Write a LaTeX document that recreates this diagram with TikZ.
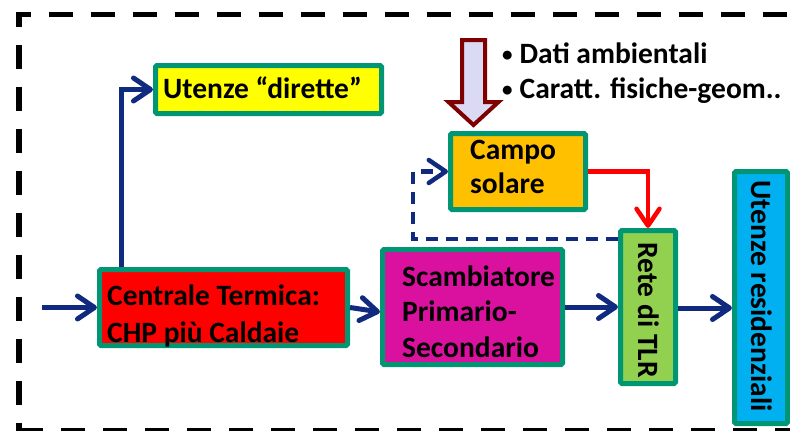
\documentclass[tikz,border=0pt]{standalone}
\usepackage{fontspec}
\setmainfont{Carlito}
\usetikzlibrary{arrows.meta}
\definecolor{navy}{RGB}{16,42,128}
\definecolor{boxgreen}{RGB}{0,150,115}
\definecolor{cyellow}{RGB}{255,255,0}
\definecolor{cred}{RGB}{255,0,0}
\definecolor{cmagenta}{RGB}{218,16,158}
\definecolor{corange}{RGB}{255,192,0}
\definecolor{clgreen}{RGB}{146,208,80}
\definecolor{cblue}{RGB}{0,176,240}
\definecolor{darkred}{RGB}{128,0,0}
\definecolor{lavender}{RGB}{218,218,245}
\newcommand{\smbul}{{\fontsize{21}{21}\selectfont\raisebox{1.5pt}{•}}}
\begin{document}
\begin{tikzpicture}[x=1pt,y=-1pt,
  box/.style={draw=boxgreen, line width=5pt, rounded corners=1.5pt, inner sep=0pt},
  lbl/.style={font=\fontsize{29.5}{35.5}\selectfont\bfseries, inner sep=0pt, anchor=base west, align=left},
  vlbl/.style={font=\fontsize{29.5}{35.5}\selectfont\bfseries, inner sep=0pt, anchor=center, rotate=-90},
  tipb/.tip={Straight Barb[length=17pt,width=23pt,line cap=round,line join=round]},
  flow/.style={draw=navy, line width=5pt, -tipb},
  border/.style={draw=black, line width=5.5pt, dash pattern=on 24pt off 18pt}
]
\useasboundingbox (0,0) rectangle (790,431);

% outer dashed frame
\draw[border, dash phase=16pt] (19,431) -- (19,14.5) -- (820,14.5);
\draw[border] (19,431) -- (820,431);

% boxes
\node[box, fill=cyellow,  minimum width=226pt, minimum height=48pt]  (diretta)  at (268.5,89.5) {};
\node[box, fill=cred,     minimum width=248pt, minimum height=76pt]  (centrale) at (223.5,307.5) {};
\node[box, fill=cmagenta, minimum width=180pt, minimum height=115pt] (scamb)    at (472.5,307) {};
\node[box, fill=corange,  minimum width=135pt, minimum height=76pt]  (campo)    at (518,171.5) {};
\node[box, fill=clgreen,  minimum width=55pt,  minimum height=153pt] (rete)     at (648,307) {};
\node[box, fill=cblue,    minimum width=53pt,  minimum height=252pt] (utres)    at (761,297.5) {};

% texts (base anchor = baseline of last line)
\node[lbl] (direttaT) at (163,98) {Utenze “dirette”};
\node[lbl, font=\fontsize{29.5}{36.7}\selectfont\bfseries] (centraleT) at (107,342) {Centrale Termica:\\CHP più Caldaie};
\node[lbl] (scambT) at (402,357) {Scambiatore\\Primario-\\Secondario};
\node[lbl, font=\fontsize{29.5}{34}\selectfont\bfseries] (campoT) at (470,193) {Campo\\solare};
\node[lbl, font=\fontsize{29.5}{35}\selectfont\bfseries] (datiT) at (502,98) {\smbul\hspace{7pt}Dati ambientali\\\smbul\hspace{7pt}Caratt. fisiche-geom..};
\node[vlbl] (reteT) at (649,310) {Rete di TLR};
\node[vlbl] (utresT) at (762,296) {Utenze residenziali};

% big input arrow
\draw[draw=darkred, fill=lavender, line width=4pt, line join=miter]
  (462,40) -- (485,40) -- (485,102) -- (498.5,102) -- (473.5,125) -- (448.5,102) -- (462,102) -- cycle;

% connectors
\coordinate (inp) at (42,307.5);
\draw[flow] (inp) -- (centrale.west);
\draw[flow] (centrale.east) -- ([yshift=-5pt]scamb.west);
\draw[flow] ([xshift=24pt]centrale.north west) |- (diretta.west);
\draw[flow] (scamb.east) -- (rete.west);
\draw[flow] ([yshift=-1pt]rete.east) -- ([yshift=-1pt]rete.east -| utres.west);
\draw[draw=cred, line width=4.5pt, -{Straight Barb[length=17pt,width=23pt,line cap=round,line join=round]}]
  (campo.east) -| (rete.north);
\draw[flow, line width=4.5pt, dash pattern=on 12pt off 8pt]
  ([yshift=-11pt]rete.north west) -- ++(-205,0) |- (campo.west);
\end{tikzpicture}
\end{document}
